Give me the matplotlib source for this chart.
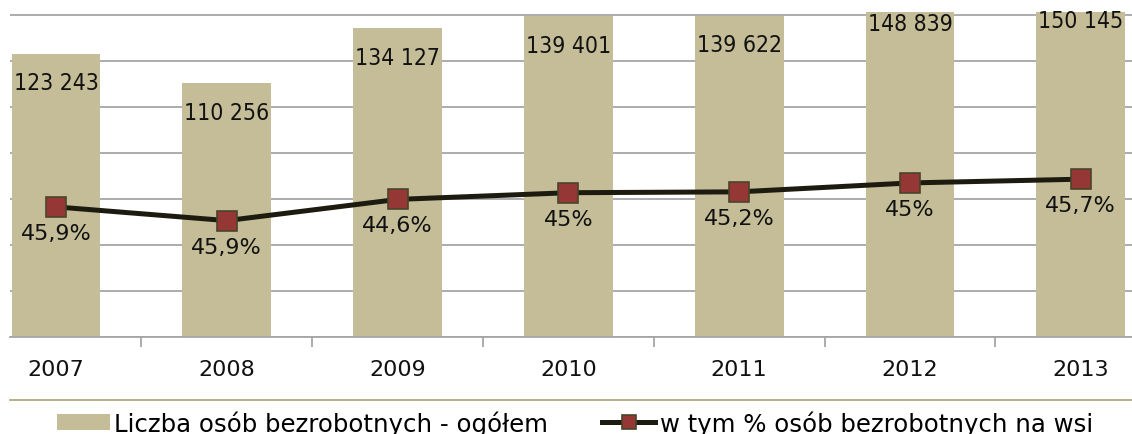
import matplotlib
matplotlib.use("Agg")
import matplotlib.pyplot as plt
from matplotlib.lines import Line2D
import numpy as np

years = ["2007", "2008", "2009", "2010", "2011", "2012", "2013"]
total_unemployed = [123243, 110256, 134127, 139401, 139622, 148839, 150145]
total_labels = ["123 243", "110 256", "134 127", "139 401", "139 622", "148 839", "150 145"]
rural_unemployed = [56568, 50607, 59821, 62730, 63109, 66978, 68616]
rural_pct_labels = ["45,9%", "45,9%", "44,6%", "45%", "45,2%", "45%", "45,7%"]

bar_label = "Liczba osób bezrobotnych - ogółem"
line_label = "w tym % osób bezrobotnych na wsi"

W, H = 1132, 435
fig = plt.figure(figsize=(W / 100, H / 100), dpi=100)
plt.rcParams['font.family'] = ['DejaVu Sans']
FS = 16
LFS = 17.6

ax = fig.add_axes([10 / W, 97 / H, 1122 / W, 325 / H])
x = np.arange(len(years))

bars = ax.bar(x, total_unemployed, width=0.52, color="#c4bd97", zorder=2,
              label=bar_label)
line, = ax.plot(x, rural_unemployed, color="#1d1b10", lw=3.6, marker="s",
                markersize=14, markerfacecolor="#953735", markeredgecolor="#4a452a",
                markeredgewidth=1.2, zorder=4, label=line_label)

ax.set_xlim(-0.269, 6.30)
ax.set_ylim(0, 141300)
ax.set_yticks(np.arange(0, 140001, 20000))
ax.yaxis.grid(True, color="#a6a6a6", lw=1.3, zorder=0)
ax.set_axisbelow(True)
ax.tick_params(axis="y", left=False, labelleft=False)

for s in ["top", "right", "left"]:
    ax.spines[s].set_visible(False)
ax.spines["bottom"].set_color("#a6a6a6")
ax.spines["bottom"].set_linewidth(1.3)

ax.set_xticks(x)
ax.set_xticklabels(years, fontsize=FS, color="#111111")
ax.set_xticks(np.arange(0.5, 6.5, 1.0), minor=True)
ax.tick_params(axis="x", which="major", length=0, pad=16)
ax.tick_params(axis="x", which="minor", length=7, color="#a6a6a6", width=1.3)

for xi, v, lab in zip(x, total_unemployed, total_labels):
    ax.annotate(lab, (xi, v), xytext=(0, -29 * 0.72), textcoords="offset points",
                ha="center", va="center", fontsize=16.5, fontstretch="condensed",
                color="#111111", annotation_clip=False, zorder=5)

for xi, v, lab in zip(x, rural_unemployed, rural_pct_labels):
    ax.annotate(lab, (xi, v), xytext=(0, -26 * 0.72), textcoords="offset points",
                ha="center", va="center", fontsize=FS, color="#111111", zorder=5)

# separator line above legend
fig.add_artist(Line2D([10 / W, 1.0], [(H - 401) / H] * 2, color="#b3a77d", lw=1.3))

fig.legend(handles=[bars, line], labels=[bar_label, line_label],
           loc="center left", bbox_to_anchor=(57 / W, (H - 424) / H),
           ncol=2, frameon=False, fontsize=LFS, borderpad=0, borderaxespad=0,
           handlelength=2.15, handleheight=0.62, handletextpad=0.2,
           columnspacing=2.2, markerscale=0.7)

fig.savefig("out.png", dpi=100)
